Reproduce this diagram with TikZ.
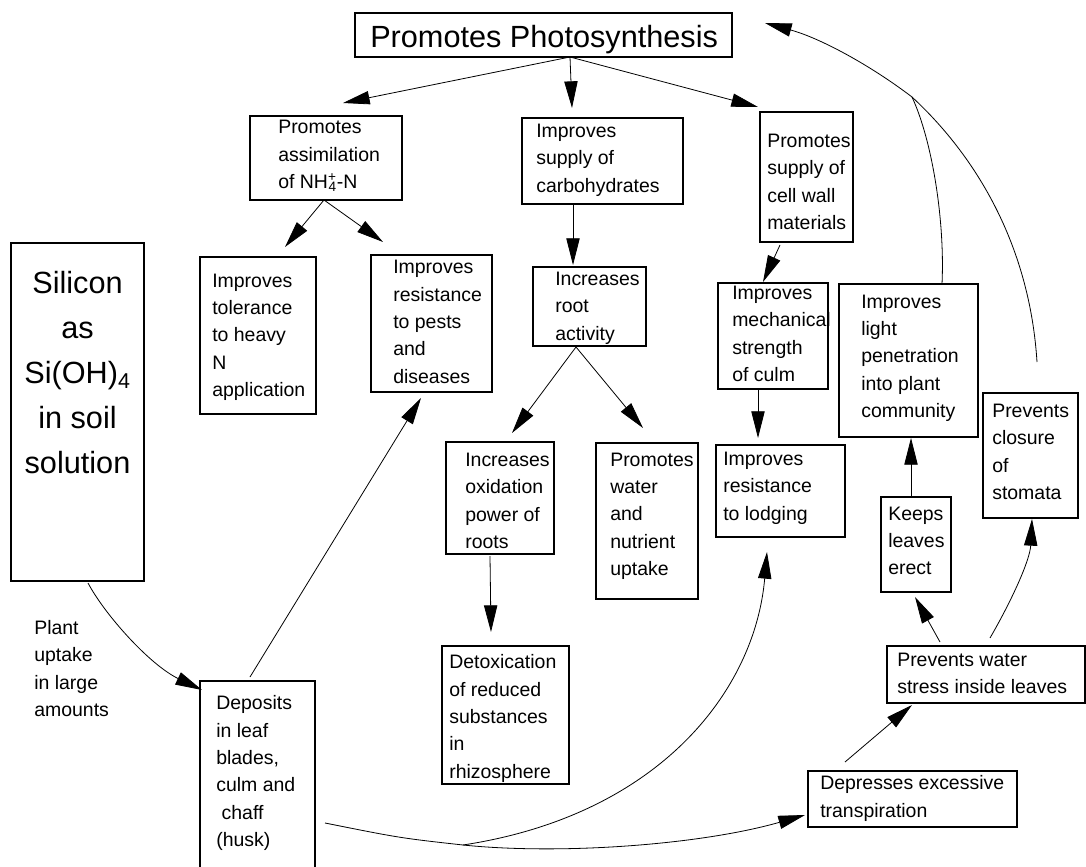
\documentclass[tikz,border=0pt]{standalone}
\usepackage{fontspec}
\setmainfont{Liberation Sans}
\usetikzlibrary{arrows.meta,calc,fit}
% #1 name, #2 x1, #3 y1, #4 x2, #5 y2, #6 text left x, #7 text centre y, #8 text
\newcommand\flowbox[8]{%
  \node[box, fit={(#2,#3) (#4,#5)}] (#1) {};
  \node[txt] (#1-t) at (#6,#7) {#8};}
\begin{document}
\begin{tikzpicture}[x=0.75pt,y=-0.75pt,
  box/.style={draw, line width=0.9pt, inner sep=0pt, outer sep=0pt},
  txt/.style={anchor=west, align=left, inner sep=0pt, font=\fontsize{14.6}{20.5}\selectfont},
  arr/.style={-{Triangle[length=20pt,width=10pt]}, line width=0.6pt},
  ln/.style={line width=0.6pt}]
\fill[white] (0,0) rectangle (1086,867);
\useasboundingbox (0,0) rectangle (1086,867);
\clip (0,0) rectangle (1086,867);

% boxes
\node[box, fit={(355,13) (732,57)}] (ps) {};
\node[txt, font=\fontsize{23}{28}\selectfont] (ps-t) at (370,40) {Promotes Photosynthesis};
\flowbox{assim}{250}{116}{402}{200}{278}{156}{Promotes\\assimilation\\of NH\textsuperscript{\rlap{+}}\textsubscript{4}-N}
\flowbox{carb}{522}{118}{683}{204}{536}{160}{Improves\\supply of\\carbohydrates}
\flowbox{cell}{760}{112}{853}{242}{767}{182}{Promotes\\supply of\\cell wall\\materials}
\flowbox{tol}{200}{257}{316}{414}{212}{337}{Improves\\tolerance\\to heavy\\N\\application}
\flowbox{pests}{371}{255}{492}{392}{393}{322}{Improves\\resistance\\to pests\\and\\diseases}
\flowbox{root}{533}{267}{646}{346}{555}{308}{Increases\\root\\activity}
\flowbox{mech}{718}{283}{828}{389}{732}{334}{Improves\\mechanical\\strength\\of culm}
\flowbox{light}{839}{284}{978}{437}{861}{358}{Improves\\light\\penetration\\into plant\\community}
\node[box, fit={(11,243) (144,581)}] (silicon) {};
\node[align=center, inner sep=0pt, font=\fontsize{23}{33.75}\selectfont] (silicon-t) at (77.5,373) {Silicon\\as\\Si(OH)\textsubscript{4}\\in soil\\solution};
\flowbox{ox}{446}{442}{554}{554}{465}{501}{Increases\\oxidation\\power of\\roots}
\flowbox{water}{596}{443}{698}{599}{610}{516}{Promotes\\water\\and\\nutrient\\uptake}
\flowbox{lodging}{716}{445}{845}{537}{723}{488}{Improves\\resistance\\to lodging}
\flowbox{stomata}{983}{393}{1078}{518}{992}{452}{Prevents\\closure\\of\\stomata}
\flowbox{keeps}{881}{497}{951}{592}{888}{541}{Keeps\\leaves\\erect}
\flowbox{detox}{442}{646}{569}{784}{449}{718.5}{Detoxication\\of reduced\\substances\\in\\rhizosphere}
\flowbox{wstress}{887}{646}{1085}{703}{897}{673.5}{Prevents water\\stress inside leaves}
\flowbox{dep}{808}{771}{1017}{827}{820}{798.5}{Depresses excessive\\transpiration}
\flowbox{depo}{200}{681}{315}{895}{216}{773}{Deposits\\in leaf\\blades,\\culm and\\\ chaff\\(husk)}
\node[txt] (plant) at (34,668.5) {Plant\\uptake\\in large\\amounts};

% junctions
\coordinate (j1) at (912,97);
\coordinate (j2) at (463,845);

% connectors
\draw[arr] ($(ps.south)+(26.5,0)$) -- ($(assim.north)+(17,-13)$);
\draw[arr] ($(ps.south)+(26.5,0)$) -- ($(carb.north)+(-30.5,-10)$);
\draw[arr] ($(ps.south)+(26.5,0)$) -- ($(cell.north)+(-48.5,-5)$);
\draw[arr] ($(assim.south)+(-2,0)$) -- ($(tol.north)+(27,-10)$);
\draw[arr] ($(assim.south)+(-2,0)$) -- ($(pests.north)+(-48.5,-13)$);
\draw[arr] ($(carb.south)+(-29.5,0)$) -- ($(root.north)+(-16.5,-2)$);
\draw[arr] ($(cell.south)+(-26.5,3)$) -- ($(mech.north)+(-10,-1)$);
\draw[arr] ($(root.south)+(-13.5,1)$) -- ($(ox.north)+(12,-9)$);
\draw[arr] ($(root.south)+(-13.5,1)$) -- ($(water.north)+(-4,-15)$);
\draw[arr] ($(ox.south)+(-10,2)$) -- ($(detox.north)+(-14.5,-14)$);
\draw[arr] ($(mech.south)+(-15,0)$) -- ($(lodging.north)+(-22.5,-7)$);
\draw[arr] ($(keeps.north)+(-5,0)$) -- ($(light.south)+(2.5,1)$);
\draw[arr] ($(wstress.north)+(-46,-4)$) -- ($(keeps.south)+(-1,5)$);
\draw[arr] ($(wstress.north)+(4,-8)$) .. controls (1012,600) and (1030,560) .. ($(stomata.south)+(1.5,1)$);
\draw[arr] ($(dep.north)+(-67.5,-9)$) -- ($(wstress.south)+(-74,2)$);
\draw[ln] ($(depo.north east)+(10,142)$) .. controls (400,838) .. (j2);
\draw[arr] (j2) .. controls (660,815) and (755,690) .. ($(lodging.south)+(-13.5,15)$);
\draw[arr] (j2) .. controls (560,855) and (700,845) .. ($(dep.west)+(-3,16)$);
\draw[arr] ($(depo.north)+(-7.5,-4)$) -- ($(pests.south)+(-10.5,6)$);
\draw[arr] ($(silicon.south)+(10.5,2)$) .. controls (105,615) and (150,665) .. ($(depo.north west)+(2,9)$);
\draw[ln] ($(light.north)+(33.5,0)$) .. controls (945,220) and (932,140) .. (j1);
\draw[arr] ($(stomata.north)+(6.5,-31)$) .. controls (1030,250) and (980,160) .. (j1) .. controls (870,65) and (820,38) .. ($(ps.east)+(33,-12)$);
\end{tikzpicture}
\end{document}
